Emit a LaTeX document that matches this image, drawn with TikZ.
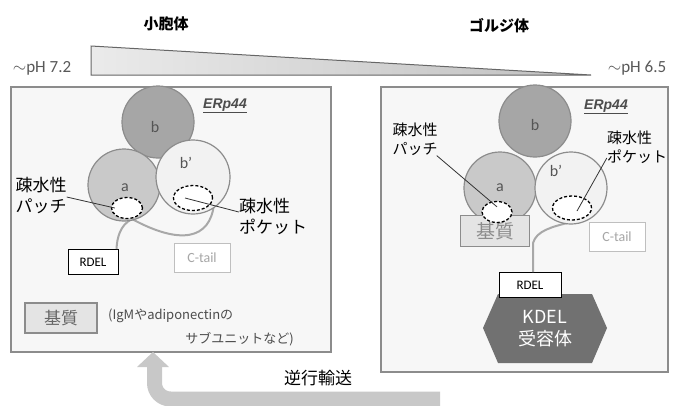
\documentclass[tikz,border=0pt]{standalone}
\usepackage{fontspec}
\setmainfont{Carlito}
\newfontfamily\jp{Noto Sans CJK JP}
\newfontfamily\arialfont{Liberation Sans}
\usetikzlibrary{shapes.geometric}

\definecolor{frame}{HTML}{8C8C8C}
\definecolor{panel}{HTML}{F7F7F7}
\definecolor{domB}{HTML}{A6A6A6}
\definecolor{domA}{HTML}{C9C9C9}
\definecolor{domBp}{HTML}{F2F2F2}
\definecolor{tailgray}{HTML}{A8A8A8}
\definecolor{arrowgray}{HTML}{C8C8C8}
\definecolor{kdel}{HTML}{717171}
\definecolor{subfill}{HTML}{E4E4E4}
\definecolor{textgray}{HTML}{555555}

\tikzset{
  panelbox/.style={draw=frame, fill=panel, line width=1.3pt},
  domcircle/.style={circle, draw=frame, line width=1.2pt, inner sep=0pt},
  patch/.style={ellipse, draw=black, fill=white, line width=1.3pt,
    dash pattern=on 3pt off 2pt, inner sep=0pt},
  leader/.style={draw=black!80, line width=0.8pt},
  tail/.style={draw=tailgray, line width=2pt},
  rdelbox/.style={draw=black, fill=white, line width=1pt, minimum width=50pt,
    minimum height=25pt, inner sep=0pt, font=\fontsize{13}{15}\selectfont},
  ctailbox/.style={draw=black!25, fill=white, line width=1pt, minimum width=56pt,
    minimum height=29pt, inner sep=0pt, text=black!35, font=\fontsize{14}{16}\selectfont},
  substrate/.style={draw=frame, fill=subfill, line width=1.2pt, inner sep=0pt},
  jplabel/.style={font=\jp\fontsize{15}{19}\selectfont, align=left, inner sep=0pt},
  domlabel/.style={font=\fontsize{16}{18}\selectfont, text=textgray, inner sep=0pt},
  erp/.style={font=\arialfont\bfseries\itshape\fontsize{14}{16}\selectfont, text=black!70, inner sep=0pt},
  title/.style={font=\jp\bfseries\fontsize{15}{18}\selectfont, inner sep=0pt},
  phlabel/.style={font=\fontsize{17}{19}\selectfont, text=black!65, inner sep=0pt},
}

\begin{document}
\begin{tikzpicture}[x=1pt, y=-1pt]
\useasboundingbox (0,0) rectangle (676,405);
\fill[white] (0,0) rectangle (676,405);

% compartment titles
\node[title] (er) at (166,24) {小胞体};
\node[title] (golgi) at (499,26) {ゴルジ体};

% pH gradient wedge
\shade[left color=black!8, right color=black!25] (91,46) -- (591,75) -- (91,75) -- cycle;
\draw[black!60, line width=1pt] (91,46) -- (591,75) -- (91,75) -- cycle;
\node[phlabel] (phL) at (42,68) {$\sim$pH 7.2};
\node[phlabel] (phR) at (637,68) {$\sim$pH 6.5};

% ---------------- ER panel ----------------
\draw[panelbox] (11,87) rectangle (331,352);

% C-tail and RDEL
\node[rdelbox] (Lrdel) at (93,262) {RDEL};
\node[ctailbox] (Lctail) at (202,258) {C-tail};
\coordinate (LtailA) at (214,204);
\coordinate (LtailJ) at (132,219);
\draw[tail] (LtailA) .. controls (210,240) and (180,245) .. (LtailJ)
            .. controls (120,225) and (117,238) .. ([xshift=-2pt]Lrdel.north east);

% thioredoxin-like domains
\node[domcircle, fill=domB, minimum size=72pt] (Lb) at (158,122) {};
\node[domcircle, fill=domA, minimum size=72pt] (La) at (124,185) {};
\node[domcircle, fill=domBp, minimum size=74pt] (Lbp) at (193,177) {};
\node[domlabel] (Lbt) at (155,127) {b};
\node[domlabel] (Lat) at (125,188) {a};
\node[domlabel] (Lbpt) at (186,163) {b’};
\node[erp] (Lerp) at (225,106) {\underline{ERp44}};

% hydrophobic patch / pocket
\node[patch, minimum width=31pt, minimum height=21pt] (Lpatch) at (127,208) {};
\node[patch, minimum width=39pt, minimum height=25pt] (Lpocket) at (193,198) {};
\node[jplabel, font=\jp\fontsize{17}{21}\selectfont] (LpatchT) at (41,195) {疎水性\\パッチ};
\node[jplabel, font=\jp\fontsize{17}{21}\selectfont] (LpocketT) at (273,216) {疎水性\\ポケット};
\draw[leader] (LpatchT.east |- 0,197) -- ([xshift=4pt]Lpatch.west);
\draw[leader] ([xshift=-8pt]Lpocket.center) -- (LpocketT.west |- 0,212);

% substrate
\node[substrate, minimum width=72pt, minimum height=30pt,
  font=\jp\fontsize{17}{20}\selectfont, text=black!60] (Lsub) at (61,318) {基質};
\node[jplabel, font=\jp\fontsize{13}{16}\selectfont, text=black!70, anchor=west] (Lsub1) at (108,316) {(IgMやadiponectinの};
\node[jplabel, font=\jp\fontsize{13}{16}\selectfont, text=black!70, anchor=east] (Lsub2) at (294,339) {サブユニットなど)};

% ---------------- Golgi panel ----------------
\draw[panelbox] (381,87) rectangle (668,372);

% KDEL receptor
\fill[kdel] (483,328) -- (498,294) -- (592,294) -- (607,328) -- (592,363) -- (498,363) -- cycle;
\node[font=\jp\fontsize{18}{22}\selectfont, text=white, align=center, inner sep=0pt] (kdel) at (545,329) {KDEL\\受容体};

\node[rdelbox, minimum width=62pt] (Rrdel) at (530,285) {RDEL};
\node[ctailbox] (Rctail) at (617,237) {C-tail};
\coordinate (RtailA) at (602,200);
\draw[tail] (RtailA) .. controls (598,228) and (540,218) .. (533,243) -- ([xshift=3pt]Rrdel.north);

\node[domcircle, fill=domB, minimum size=72pt] (Rb) at (535,121) {};
\node[domcircle, fill=domA, minimum size=72pt] (Ra) at (500,188) {};
\node[domcircle, fill=domBp, minimum size=72pt] (Rbp) at (571,188) {};
\node[domlabel] (Rbt) at (535,125) {b};
\node[domlabel] (Rat) at (500,188) {a};
\node[domlabel] (Rbpt) at (556,171) {b’};
\node[erp] (Rerp) at (606,107) {\underline{ERp44}};

\node[substrate, minimum width=69pt, minimum height=31pt,
  font=\jp\fontsize{19}{22}\selectfont, text=black!45] (Rsub) at (495,231) {基質};
\node[patch, minimum width=30pt, minimum height=21pt] (Rpatch) at (497,212) {};
\node[patch, minimum width=39pt, minimum height=24pt] (Rpocket) at (572,208) {};
\node[jplabel] (RpatchT) at (415,139) {疎水性\\パッチ};
\node[jplabel] (RpocketT) at (637,147) {疎水性\\ポケット};
\draw[leader] ([xshift=-1pt]RpatchT.south east) -- ([yshift=-6pt]Rpatch.north);
\draw[leader] (RpocketT.west |- 0,158) -- ([xshift=5pt,yshift=-3pt]Rpocket.center);

% retrograde transport arrow
\draw[arrowgray, line width=15pt, rounded corners=16pt] (440,399) -- (154.5,399) -- (154.5,364);
\fill[arrowgray] (137,367) -- (153,352) -- (169,367) -- cycle;
\node[font=\jp\fontsize{17}{20}\selectfont, inner sep=0pt] (retro) at (318,378) {逆行輸送};
\end{tikzpicture}
\end{document}
